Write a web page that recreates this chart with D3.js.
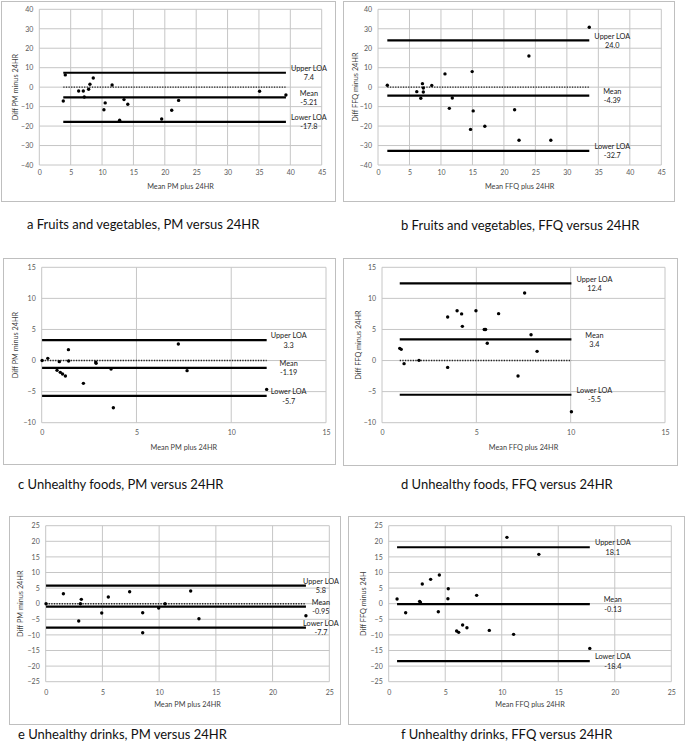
<!DOCTYPE html>
<html><head><meta charset="utf-8">
<script src="https://cdn.jsdelivr.net/npm/d3@7"></script>
<style>html,body{margin:0;padding:0;background:#fff;}svg{display:block;}</style>
</head><body>
<script>
// ---------- DATA ----------
const captions = [
  "a Fruits and vegetables, PM versus 24HR",
  "b Fruits and vegetables, FFQ versus 24HR",
  "c Unhealthy foods, PM versus 24HR",
  "d Unhealthy foods, FFQ versus 24HR",
  "e Unhealthy drinks, PM versus 24HR",
  "f Unhealthy drinks, FFQ versus 24HR"
];
const xTitles = ["Mean PM plus 24HR","Mean FFQ plus 24HR","Mean PM plus 24HR","Mean FFQ plus 24HR","Mean PM plus 24HR","Mean FFQ plus 24HR"];
const yTitles = ["Diff PM minus 24HR","Diff FFQ minus 24HR","Diff PM minus 24HR","Diff FFQ minus 24HR","Diff PM minus 24HR","Diff FFQ minus 24H"];

const xTicksAB = [0,5,10,15,20,25,30,35,40,45];
const yTicksAB = [-40,-30,-20,-10,0,10,20,30,40];
const xTicksCD = [0,5,10,15];
const yTicksCD = [-10,-5,0,5,10,15];
const xTicksEF = [0,5,10,15,20,25];
const yTicksEF = [-25,-20,-15,-10,-5,0,5,10,15,20,25];

const aMean = [3.82,4.14,6.27,7.01,7.17,7.86,8.07,8.6,10.3,10.5,11.6,12.8,13.5,14.1,19.5,21.1,22.2,35.1,39.3];
const aDiff = [-7.1,6.3,-2.0,-2.0,-5.05,-1.1,1.5,4.7,-11.6,-8.1,1.1,-17.0,-6.4,-8.8,-16.4,-11.9,-6.8,-2.1,-4.0];

const bMean = [1.48,6.16,6.8,7.06,7.2,7.2,8.54,10.64,11.33,11.8,14.96,14.7,15.12,16.97,21.7,22.4,23.97,27.45,33.56];
const bDiff = [0.94,-2.3,-5.7,1.8,-0.4,-2.5,0.9,6.8,-10.9,-5.6,8.0,-21.7,-12.2,-20.1,-11.6,-27.3,16.0,-27.3,30.75];

const cMean = [0.02,0.32,0.81,0.93,0.98,1.1,1.25,1.41,1.42,2.2,2.85,2.87,3.66,3.78,7.21,7.67,11.87];
const cDiff = [0.0,0.35,-1.58,-0.18,-1.9,-2.17,-2.49,1.75,-0.07,-3.67,-0.25,-0.45,-1.36,-7.6,2.66,-1.63,-4.64];

const dMean = [0.94,1.02,1.17,1.96,3.48,3.48,3.98,4.22,4.26,4.98,5.42,5.49,5.58,6.18,7.21,7.56,7.9,8.22,10.04];
const dDiff = [1.96,1.8,-0.5,0.03,7.0,-1.1,8.0,7.5,5.5,8.0,5.0,5.0,2.77,7.54,-2.49,10.87,4.16,1.48,-8.23];

const eMean = [0.03,1.56,2.91,3.06,3.14,4.94,5.52,7.4,8.55,8.55,9.96,10.52,12.78,13.51,22.94];
const eDiff = [0.0,3.2,-5.56,0.0,1.39,-2.99,2.14,3.85,-2.88,-9.29,-1.39,0.0,4.06,-4.8,-3.85];

const fMean = [0.74,1.5,2.74,2.8,2.97,3.71,4.48,4.39,5.27,5.24,6.01,6.19,6.54,6.92,7.78,8.9,10.46,11.05,13.28,17.79];
const fDiff = [1.5,-2.88,0.75,0.4,6.3,7.8,9.19,-2.56,4.81,1.6,-8.76,-9.19,-6.84,-7.69,2.67,-8.55,21.26,-9.83,15.81,-14.32];

const upperLOA = [7.4,24.0,3.3,12.4,5.8,18.1];
const meanDiff = [-5.21,-4.39,-1.19,3.4,-0.95,-0.13];
const lowerLOA = [-17.8,-32.7,-5.7,-5.5,-7.7,-18.4];
const upperText = ["7.4","24.0","3.3","12.4","5.8","18.1"];
const meanText = ["-5.21","-4.39","-1.19","3.4","-0.95","-0.13"];
const lowerText = ["-17.8","-32.7","-5.7","-5.5","-7.7","-18.4"];

const meansAll = [aMean,bMean,cMean,dMean,eMean,fMean];
const diffsAll = [aDiff,bDiff,cDiff,dDiff,eDiff,fDiff];
const xTicksAll = [xTicksAB,xTicksAB,xTicksCD,xTicksCD,xTicksEF,xTicksEF];
const yTicksAll = [yTicksAB,yTicksAB,yTicksCD,yTicksCD,yTicksEF,yTicksEF];

// ---------- LAYOUT ----------
const layout = [
  {frame:[1,1,335,201],   plot:[39.3,9.3,321.7,165],    tickDy:9,   xTitleY:186, yTitleX:15,  capX:27,  capY:224, labelDx:23},
  {frame:[343,1,674,201], plot:[378,9.3,661.3,165],     tickDy:9,   xTitleY:186, yTitleX:355, capX:401, capY:225, labelDx:23},
  {frame:[3,258,335,464], plot:[41.7,267.3,326,422.7],  tickDy:10.6,xTitleY:447, yTitleX:15,  capX:18,  capY:484, labelDx:22},
  {frame:[343,258,677,465],plot:[382,267.3,665,422.7],  tickDy:10.6,xTitleY:447, yTitleX:358, capX:401, capY:484, labelDx:23},
  {frame:[9,516,340,724], plot:[45.7,525.7,329.3,681.7],tickDy:11.6,xTitleY:704, yTitleX:20,  capX:18,  capY:734, labelDx:15},
  {frame:[348,516,684,724],plot:[388.7,525.7,671.3,681.7],tickDy:11.6,xTitleY:704,yTitleX:363, capX:401, capY:734, labelDx:23}
];

const FONT = "Lato, 'Open Sans', sans-serif";
const svg = d3.select("body").append("svg").attr("width",685).attr("height",747);
svg.append("rect").attr("width",685).attr("height",747).attr("fill","#fff");

layout.forEach((L,i)=>{
  const g = svg.append("g");
  const [fx0,fy0,fx1,fy1] = L.frame;
  g.append("rect").attr("x",fx0+0.5).attr("y",fy0+0.5).attr("width",fx1-fx0).attr("height",fy1-fy0)
    .attr("fill","#fff").attr("stroke","#bfbfbf").attr("stroke-width",1);
  const [px0,py0,px1,py1] = L.plot;
  const xt = xTicksAll[i], yt = yTicksAll[i];
  const x = d3.scaleLinear().domain([xt[0], xt[xt.length-1]]).range([px0,px1]);
  const y = d3.scaleLinear().domain([yt[0], yt[yt.length-1]]).range([py1,py0]);

  // gridlines
  g.append("g").selectAll("line").data(xt).join("line")
    .attr("x1",d=>x(d)).attr("x2",d=>x(d)).attr("y1",py0).attr("y2",py1)
    .attr("stroke","#c6c6c6").attr("stroke-width",1);
  g.append("g").selectAll("line").data(yt).join("line")
    .attr("x1",px0).attr("x2",px1).attr("y1",d=>y(d)).attr("y2",d=>y(d))
    .attr("stroke","#c6c6c6").attr("stroke-width",1);

  // axes (labels only)
  const xa = g.append("g").attr("transform",`translate(0,${py1})`)
    .call(d3.axisBottom(x).tickValues(xt).tickSize(0).tickPadding(L.tickDy-3.5).tickFormat(d3.format("d")));
  xa.select(".domain").remove();
  xa.selectAll("text").attr("font-family",FONT).attr("font-size",7).attr("fill","#595959");
  const ya = g.append("g").attr("transform",`translate(${px0},0)`)
    .call(d3.axisLeft(y).tickValues(yt).tickSize(0).tickPadding(6).tickFormat(d3.format("d")));
  ya.select(".domain").remove();
  ya.selectAll("text").attr("font-family",FONT).attr("font-size",7).attr("fill","#595959");

  // axis titles
  g.append("text").attr("x",(px0+px1)/2).attr("y",L.xTitleY).attr("dy","0.35em")
    .attr("text-anchor","middle").attr("font-family",FONT).attr("font-size",7.3).attr("fill","#404040")
    .text(xTitles[i]);
  g.append("text").attr("transform",`translate(${L.yTitleX},${(py0+py1)/2}) rotate(-90)`).attr("dy","0.35em")
    .attr("text-anchor","middle").attr("font-family",FONT).attr("font-size",7.3).attr("fill","#404040")
    .text(yTitles[i]);

  const xs = meansAll[i], ys = diffsAll[i];
  const [xmin,xmax] = d3.extent(xs);

  // zero dotted line
  g.append("line").attr("x1",x(xmin)).attr("x2",x(xmax)).attr("y1",y(0)).attr("y2",y(0))
    .attr("stroke","#222").attr("stroke-width",1.4).attr("stroke-dasharray","1.3,1.3");

  // LOA and mean lines
  const lines = [
    {v:upperLOA[i], t1:"Upper LOA", t2:upperText[i]},
    {v:meanDiff[i], t1:"Mean", t2:meanText[i]},
    {v:lowerLOA[i], t1:"Lower LOA", t2:lowerText[i]}
  ];
  g.append("g").selectAll("line").data(lines).join("line")
    .attr("x1",x(xmin)).attr("x2",x(xmax)).attr("y1",d=>y(d.v)).attr("y2",d=>y(d.v))
    .attr("stroke","#000").attr("stroke-width",2.2);

  // points
  g.append("g").selectAll("circle").data(xs.map((v,k)=>[v,ys[k]])).join("circle")
    .attr("cx",d=>x(d[0])).attr("cy",d=>y(d[1])).attr("r",1.7).attr("fill","#000");

  // line labels
  const lab = g.append("g").selectAll("g").data(lines).join("g")
    .attr("transform",d=>`translate(${x(xmax)+L.labelDx},${y(d.v)})`);
  lab.append("text").attr("y",-4.3).attr("dy","0.35em").attr("text-anchor","middle")
    .attr("font-family",FONT).attr("font-size",7.3).attr("fill","#222").text(d=>d.t1);
  lab.append("text").attr("y",5).attr("dy","0.35em").attr("text-anchor","middle")
    .attr("font-family",FONT).attr("font-size",7.3).attr("fill","#222").text(d=>d.t2);

  // caption
  svg.append("text").attr("x",L.capX).attr("y",L.capY).attr("dy","0.35em")
    .attr("font-family",FONT).attr("font-size",13).attr("fill","#111").text(captions[i]);
});
</script>
</body></html>
